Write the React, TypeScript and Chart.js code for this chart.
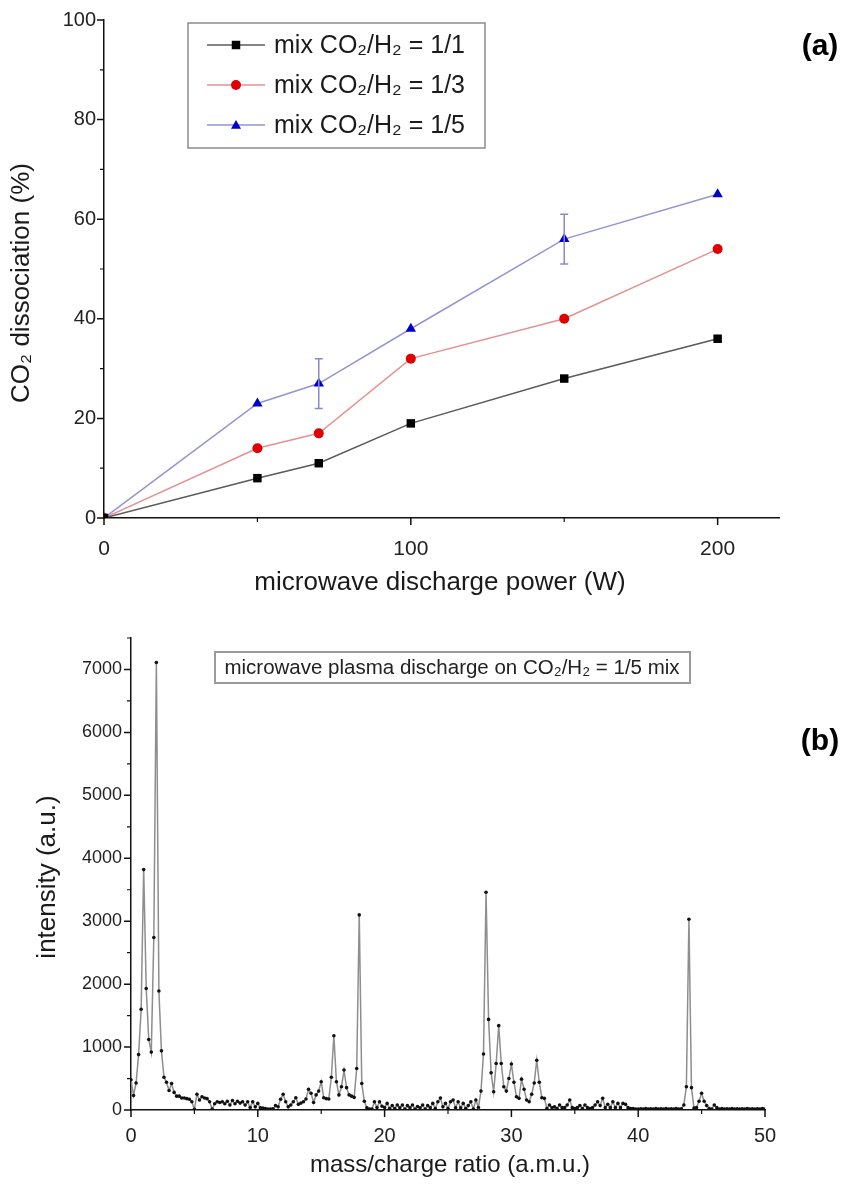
import React, { useEffect, useRef } from "react";
import { Chart, registerables } from "chart.js";
Chart.register(...registerables);

// ---------- (a) CO2 dissociation vs power ----------
const powerW = [0, 50, 70, 100, 150, 200];
const mix11 = [0, 8, 11, 19, 28, 36];
const mix13 = [0, 14, 17, 32, 40, 54];
const mix15 = [0, 23, 27, 38, 56, 65];
const mix15Err = [0, 0, 5, 0, 5, 0];
const seriesLabels = ["mix CO\u2082/H\u2082 = 1/1", "mix CO\u2082/H\u2082 = 1/3", "mix CO\u2082/H\u2082 = 1/5"];
const topXTicks = [0, 100, 200];
const topXMinor = [50, 150];
const topYTicks = [0, 20, 40, 60, 80, 100];
const topYMinor = [10, 30, 50, 70, 90];

// ---------- (b) mass spectrum ----------
const massStart = 0;
const massStep = 0.2;
const intensity = [
  480, 230, 430, 880, 1600,
  3820, 1930, 1120, 920, 2740,
  7110, 1890, 940, 520, 440,
  310, 420, 280, 220, 220,
  190, 190, 180, 170, 130,
  10, 250, 160, 210, 190,
  180, 130, 15, 100, 130,
  120, 130, 100, 140, 80,
  150, 100, 140, 110, 130,
  80, 130, 40, 130, 50,
  105, 35, 30, 25, 15,
  15, 20, 70, 50, 170,
  250, 130, 50, 80, 130,
  195, 90, 110, 130, 175,
  330, 265, 120, 240, 300,
  450, 195, 180, 175, 520,
  1180, 450, 240, 370, 635,
  355, 240, 220, 200, 660,
  3100, 420, 140, 35, 15,
  15, 130, 40, 130, 60,
  40, 105, 25, 70, 25,
  80, 35, 80, 15, 70,
  35, 80, 15, 55, 35,
  80, 15, 70, 35, 105,
  25, 130, 190, 50, 105,
  25, 130, 160, 35, 130,
  35, 105, 25, 70, 130,
  15, 160, 40, 300, 890,
  3460, 1440, 590, 290, 740,
  1340, 740, 370, 300, 500,
  730, 440, 210, 185, 490,
  330, 160, 130, 250, 430,
  790, 440, 195, 185, 25,
  80, 37, 50, 25, 80,
  37, 37, 80, 160, 37,
  25, 37, 70, 25, 80,
  37, 25, 37, 80, 130,
  70, 185, 37, 90, 37,
  130, 37, 105, 37, 105,
  90, 37, 25, 25, 15,
  15, 20, 15, 25, 15,
  20, 15, 25, 15, 20,
  15, 25, 15, 20, 15,
  25, 15, 20, 80, 370,
  3030, 355, 30, 37, 140,
  265, 140, 70, 25, 15,
  80, 37, 15, 25, 15,
  20, 15, 25, 15, 20,
  15, 20, 15, 25, 15,
  20, 15, 20, 15, 25,
  15,
];
const botXTicks = [0, 10, 20, 30, 40, 50];
const botXMinor = [5, 15, 25, 35, 45];
const botYTicks = [0, 1000, 2000, 3000, 4000, 5000, 6000, 7000];
const botYMinor = [500, 1500, 2500, 3500, 4500, 5500, 6500, 7500];

const FONT = "'Liberation Sans', Arial, sans-serif";

function drawAxisTicks(chart: any, axis: string, values: number[], len: number, lw: number) {
  const s = chart.scales[axis];
  const ctx = chart.ctx;
  ctx.save();
  ctx.strokeStyle = "#111";
  ctx.lineWidth = lw;
  ctx.beginPath();
  values.forEach((v) => {
    const p = s.getPixelForValue(v);
    if (axis === "x") {
      ctx.moveTo(p, s.top);
      ctx.lineTo(p, s.top + len);
    } else {
      ctx.moveTo(s.right, p);
      ctx.lineTo(s.right - len, p);
    }
  });
  ctx.stroke();
  ctx.restore();
}

function drawMarker(ctx: CanvasRenderingContext2D, style: string, x: number, y: number, r: number, fill: string) {
  ctx.save();
  ctx.fillStyle = fill;
  ctx.beginPath();
  if (style === "rect") {
    ctx.rect(x - r * 0.85, y - r * 0.85, 1.7 * r, 1.7 * r);
  } else if (style === "circle") {
    ctx.arc(x, y, r, 0, Math.PI * 2);
  } else {
    ctx.moveTo(x, y - r);
    ctx.lineTo(x + r, y + r * 0.75);
    ctx.lineTo(x - r, y + r * 0.75);
    ctx.closePath();
  }
  ctx.fill();
  ctx.restore();
}

const topColors = [
  { line: "#5a5a5a", point: "#000000", style: "rect" },
  { line: "#e39292", point: "#e00000", style: "circle" },
  { line: "#9494d2", point: "#0000c8", style: "triangle" },
];

const topDecor = {
  id: "topDecor",
  afterDatasetsDraw(chart: any) {
    const ctx = chart.ctx;
    const xs = chart.scales.x;
    const ys = chart.scales.y;
    ctx.save();
    ctx.strokeStyle = "#8a8ad0";
    ctx.lineWidth = 1.5;
    mix15Err.forEach((e, i) => {
      if (!e) return;
      const px = xs.getPixelForValue(powerW[i]);
      const y1 = ys.getPixelForValue(mix15[i] - e);
      const y2 = ys.getPixelForValue(mix15[i] + e);
      ctx.beginPath();
      ctx.moveTo(px, y1);
      ctx.lineTo(px, y2);
      ctx.moveTo(px - 4, y1);
      ctx.lineTo(px + 4, y1);
      ctx.moveTo(px - 4, y2);
      ctx.lineTo(px + 4, y2);
      ctx.stroke();
    });
    ctx.restore();
  },
  afterDraw(chart: any) {
    const ctx = chart.ctx;
    drawAxisTicks(chart, "x", topXTicks, 7, 1.5);
    drawAxisTicks(chart, "x", topXMinor, 4, 1.2);
    drawAxisTicks(chart, "y", topYTicks, 7, 1.5);
    drawAxisTicks(chart, "y", topYMinor, 4, 1.2);
    ctx.save();
    ctx.fillStyle = "#fff";
    ctx.strokeStyle = "#8c8c8c";
    ctx.lineWidth = 1.5;
    ctx.fillRect(188, 23, 297, 125);
    ctx.strokeRect(188, 23, 297, 125);
    seriesLabels.forEach((lab, i) => {
      const y = 45 + i * 40;
      ctx.strokeStyle = topColors[i].line;
      ctx.lineWidth = 1.5;
      ctx.beginPath();
      ctx.moveTo(207, y);
      ctx.lineTo(265, y);
      ctx.stroke();
      drawMarker(ctx, topColors[i].style, 236, y, 5, topColors[i].point);
      ctx.fillStyle = "#1a1a1a";
      ctx.font = `25px ${FONT}`;
      ctx.textAlign = "left";
      ctx.textBaseline = "middle";
      ctx.fillText(lab, 274, y + 1);
    });
    ctx.font = `bold 30px ${FONT}`;
    ctx.fillStyle = "#000";
    ctx.textAlign = "center";
    ctx.fillText("(a)", 820, 47);
    ctx.font = `26px ${FONT}`;
    ctx.fillStyle = "#1a1a1a";
    ctx.fillText("microwave discharge power (W)", 440, 583);
    ctx.translate(22, 283);
    ctx.rotate(-Math.PI / 2);
    ctx.fillText("CO\u2082 dissociation (%)", 0, 0);
    ctx.restore();
  },
};

const botDecor = {
  id: "botDecor",
  afterDraw(chart: any) {
    const ctx = chart.ctx;
    drawAxisTicks(chart, "x", botXTicks, 7, 1.5);
    drawAxisTicks(chart, "x", botXMinor, 4, 1.2);
    drawAxisTicks(chart, "y", botYTicks, 7, 1.5);
    drawAxisTicks(chart, "y", botYMinor, 4, 1.2);
    ctx.save();
    ctx.strokeStyle = "#9a9a9a";
    ctx.lineWidth = 2;
    ctx.fillStyle = "#fff";
    ctx.fillRect(215, 52, 475, 31);
    ctx.strokeRect(215, 52, 475, 31);
    ctx.fillStyle = "#222";
    ctx.font = `20.5px ${FONT}`;
    ctx.textAlign = "center";
    ctx.textBaseline = "middle";
    ctx.fillText("microwave plasma discharge on CO\u2082/H\u2082 = 1/5 mix", 452, 68);
    ctx.font = `bold 30px ${FONT}`;
    ctx.fillStyle = "#000";
    ctx.fillText("(b)", 820, 142);
    ctx.font = `24px ${FONT}`;
    ctx.fillStyle = "#1a1a1a";
    ctx.fillText("mass/charge ratio (a.m.u.)", 450, 565);
    ctx.font = `26px ${FONT}`;
    ctx.translate(48, 277);
    ctx.rotate(-Math.PI / 2);
    ctx.fillText("intensity (a.u.)", 0, 0);
    ctx.restore();
  },
};

function topConfig(): any {
  const series = [mix11, mix13, mix15];
  return {
    type: "line",
    data: {
      datasets: series.map((vals, i) => ({
        label: seriesLabels[i],
        data: powerW.map((x, j) => ({ x, y: vals[j] })),
        borderColor: topColors[i].line,
        borderWidth: 1.5,
        pointStyle: topColors[i].style,
        pointRadius: topColors[i].style === "rect" ? 6 : topColors[i].style === "circle" ? 5 : 6,
        pointBackgroundColor: topColors[i].point,
        pointBorderColor: topColors[i].point,
        pointBorderWidth: 0,
        tension: 0,
        fill: false,
      })),
    },
    options: {
      animation: false,
      responsive: false,
      layout: { padding: { top: 17, right: 78, left: 0, bottom: 0 } },
      plugins: { legend: { display: false }, tooltip: { enabled: false } },
      scales: {
        x: {
          type: "linear",
          min: 0,
          max: 220,
          afterBuildTicks: (s: any) => {
            s.ticks = topXTicks.map((v) => ({ value: v }));
          },
          afterFit: (s: any) => {
            s.height = 82;
          },
          grid: { display: false, drawTicks: false },
          border: { display: true, color: "#111", width: 1.5 },
          ticks: { padding: 19, color: "#222", font: { family: FONT, size: 21 }, maxRotation: 0, callback: (v: any) => String(v) },
        },
        y: {
          type: "linear",
          min: 0,
          max: 100,
          afterBuildTicks: (s: any) => {
            s.ticks = topYTicks.map((v) => ({ value: v }));
          },
          afterFit: (s: any) => {
            s.width = 104;
          },
          grid: { display: false, drawTicks: false },
          border: { display: true, color: "#111", width: 1.5 },
          ticks: { padding: 8, color: "#222", font: { family: FONT, size: 20 }, callback: (v: any) => String(v) },
        },
      },
    },
    plugins: [topDecor],
  };
}

function botConfig(): any {
  return {
    type: "line",
    data: {
      datasets: [
        {
          label: "spectrum",
          data: intensity.map((v, i) => ({ x: massStart + i * massStep, y: v })),
          borderColor: "#8e8e8e",
          borderWidth: 1.5,
          pointRadius: 1.8,
          pointBackgroundColor: "#111",
          pointBorderColor: "#111",
          pointBorderWidth: 0,
          tension: 0,
          fill: false,
        },
      ],
    },
    options: {
      animation: false,
      responsive: false,
      layout: { padding: { top: 38, right: 92, left: 0, bottom: 0 } },
      plugins: { legend: { display: false }, tooltip: { enabled: false } },
      scales: {
        x: {
          type: "linear",
          min: 0,
          max: 50,
          afterBuildTicks: (s: any) => {
            s.ticks = botXTicks.map((v) => ({ value: v }));
          },
          afterFit: (s: any) => {
            s.height = 77;
          },
          grid: { display: false, drawTicks: false },
          border: { display: true, color: "#111", width: 1.5 },
          ticks: { padding: 14, color: "#222", font: { family: FONT, size: 20 }, maxRotation: 0, callback: (v: any) => String(v) },
        },
        y: {
          type: "linear",
          min: 0,
          max: 7500,
          afterBuildTicks: (s: any) => {
            s.ticks = botYTicks.map((v) => ({ value: v }));
          },
          afterFit: (s: any) => {
            s.width = 131;
          },
          grid: { display: false, drawTicks: false },
          border: { display: true, color: "#111", width: 1.5 },
          ticks: { padding: 9, color: "#222", font: { family: FONT, size: 18 }, callback: (v: any) => String(v) },
        },
      },
    },
    plugins: [botDecor],
  };
}

export default function App() {
  const topRef = useRef<HTMLCanvasElement>(null);
  const botRef = useRef<HTMLCanvasElement>(null);
  useEffect(() => {
    const c1 = new Chart(topRef.current as HTMLCanvasElement, topConfig());
    const c2 = new Chart(botRef.current as HTMLCanvasElement, botConfig());
    return () => {
      c1.destroy();
      c2.destroy();
    };
  }, []);
  return (
    <div style={{ position: "absolute", left: 0, top: 0, width: 857, height: 1187, background: "#fff" }}>
      <canvas ref={topRef} width={857} height={600} style={{ position: "absolute", left: 0, top: 0, width: 857, height: 600 }} />
      <canvas ref={botRef} width={857} height={587} style={{ position: "absolute", left: 0, top: 600, width: 857, height: 587 }} />
    </div>
  );
}
